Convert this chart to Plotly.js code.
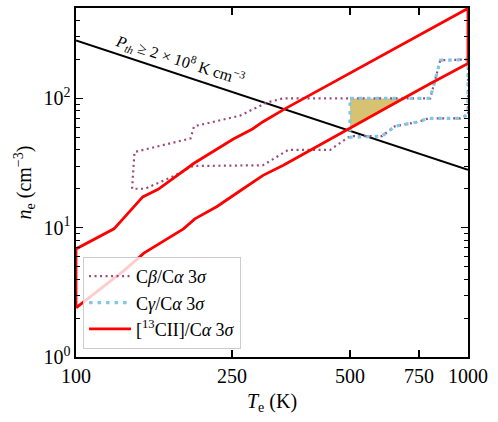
<!DOCTYPE html>
<html><head><meta charset="utf-8">
<script src="https://cdn.plot.ly/plotly-3.0.1.min.js"></script>
<style>body{margin:0;background:#fff}</style>
</head><body><div id="chart" style="width:498px;height:422px"></div>
<script>
// Thermal pressure line
const T_pth = [100, 1000];
const n_pth = [280, 28];
// [13CII]/Calpha 3 sigma contour: lower and upper edges
const T_lo = [100,133,149,175,188,201,229,267,300,338,445,491,600,680,800,1000];
const n_lo = [2.4,4.7,6.36,8.6,9.8,11.7,14.6,20,25.4,30.4,48.4,57.9,80.5,99,130,186];
const T_up = [100,125,148,162,200,228,252,282,300,341,400,500,600,750,1000];
const n_up = [6.85,9.8,17.3,19.8,31.5,40,48.5,58,66,83,108,157,212,308,497];
// Cbeta/Calpha 3 sigma contour
const T_b = [139,141,196,200,262,307,338,801,850,1000,1000,955,793,741,652,603,510,495,445,348,300,199,177,150,139];
const n_b = [20,38.5,49,60.8,73.5,93,100,100,197,200,75,70,70,65.5,61,51,51,50,40,40,30.4,30,25,20,20];
// Cgamma/Calpha 3 sigma contour
const T_g = [500,801,850,1000,1000,955,793,741,652,603,500,500];
const n_g = [100,100,197,200,75,70,70,65.5,61,51,50,100];
// Overlap region
const T_fill = [500,675,500,500];
const n_fill = [100,100,59.3,100];
// Labels
const xTicks = [100,250,500,750,1000];
const xTickText = ['100','250','500','750','1000'];
const yTicks = [1,10,100];
const yTickText = ['10<sup>0</sup>','10<sup>1</sup>','10<sup>2</sup>'];
const yMinor = [2,3,4,5,6,7,8,9,20,30,40,50,60,70,80,90,200,300,400];
const names = ['C<i>β</i>/C<i>α</i> 3<i>σ</i>','C<i>γ</i>/C<i>α</i> 3<i>σ</i>','[<sup>13</sup>CII]/C<i>α</i> 3<i>σ</i>'];

const redT = T_lo.concat(T_up.slice().reverse(), [T_lo[0]]);
const redN = n_lo.concat(n_up.slice().reverse(), [n_lo[0]]);

const FONT = 'Liberation Serif, DejaVu Serif, serif';
const traces = [
  {x:T_fill, y:n_fill, mode:'lines', fill:'toself', fillcolor:'#d6c272', line:{width:0}, showlegend:false, hoverinfo:'skip'},
  {x:T_pth, y:n_pth, mode:'lines', line:{color:'black', width:2}, showlegend:false},
  {x:T_b, y:n_b, mode:'lines', name:names[0], line:{color:'#9a4a7a', width:2.2, dash:'2px,3.5px'}},
  {x:T_g, y:n_g, mode:'lines', name:names[1], line:{color:'#7ec8e8', width:3.2, dash:'3.5px,5px'}},
  {x:redT, y:redN, mode:'lines', name:names[2], line:{color:'#ff0000', width:2.8}}
];

const axisCommon = {
  showgrid:false, zeroline:false, showline:true, linecolor:'black', linewidth:1.6,
  mirror:'allticks', ticks:'inside', ticklen:7, tickwidth:1.3, tickcolor:'black',
  tickfont:{family:FONT, size:20, color:'black'}
};

const layout = {
  width:498, height:422,
  margin:{l:76, r:30, t:8, b:65},
  paper_bgcolor:'white', plot_bgcolor:'white',
  font:{family:FONT, color:'black'},
  xaxis:Object.assign({}, axisCommon, {
    type:'log', range:[2,3], tickmode:'array', tickvals:xTicks, ticktext:xTickText,
    title:{text:'<i>T</i><sub>e</sub> (K)', font:{family:FONT, size:20}, standoff:8}
  }),
  yaxis:Object.assign({}, axisCommon, {
    type:'log', range:[0, Math.log10(500)], tickmode:'array', tickvals:yTicks, ticktext:yTickText,
    minor:{tickmode:'array', tickvals:yMinor, ticks:'inside', ticklen:4, tickwidth:1, tickcolor:'black', showgrid:false},
    title:{text:'<i>n</i><sub>e</sub> (cm<sup>−3</sup>)', font:{family:FONT, size:20}, standoff:6}
  }),
  legend:{x:0.018, y:0.023, xanchor:'left', yanchor:'bottom', bgcolor:'rgba(255,255,255,0.8)',
    bordercolor:'#cccccc', borderwidth:1, itemwidth:42, tracegroupgap:0,
    font:{family:FONT, size:18, color:'black'}},
  annotations:[{
    x:Math.log10(184), y:Math.log10(198), xref:'x', yref:'y', showarrow:false,
    text:'<i>P<sub>th</sub></i> ≥ 2 × 10<sup>8</sup> K cm<sup>−3</sup>', textangle:17.5,
    font:{family:FONT, size:16, color:'black'}
  }]
};

Plotly.newPlot('chart', traces, layout, {staticPlot:true, displayModeBar:false});
</script></body></html>
